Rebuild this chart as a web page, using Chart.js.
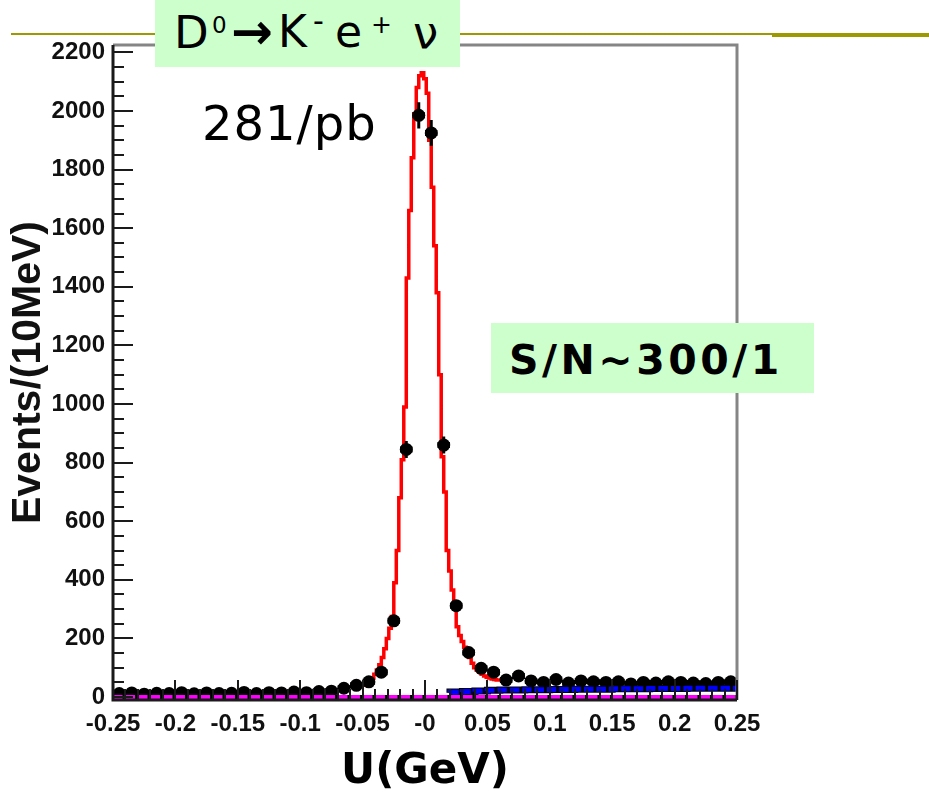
<!DOCTYPE html>
<html>
<head>
<meta charset="utf-8">
<script src="https://cdn.jsdelivr.net/npm/chart.js@4.4.1/dist/chart.umd.min.js"></script>
<style>
html,body{margin:0;padding:0;background:#fff;}
#wrap{position:relative;width:929px;height:798px;overflow:hidden;background:#fff;}
#chart{position:absolute;left:0;top:0;}
.olive1{position:absolute;left:11px;top:33px;width:761px;height:2px;background:#9c9a00;}
.olive2{position:absolute;left:772px;top:33px;width:157px;height:4px;background:#9c9a00;}
.box{position:absolute;background:#ccffcc;}
.t{position:absolute;white-space:pre;color:#000;font-family:'DejaVu Sans',Verdana,sans-serif;}
</style>
</head>
<body>
<div id="wrap">
  <div class="olive1"></div>
  <div class="olive2"></div>
  <canvas id="chart" width="929" height="798"></canvas>
  <div class="box" style="left:155px;top:0;width:305px;height:67px;"></div>
  <div class="t" style="left:174px;top:10px;font-size:45px;line-height:45px;">D</div>
  <div class="t" style="left:212px;top:14px;font-size:23px;line-height:23px;">0</div>
  <div class="t" style="left:231px;top:7px;font-size:50px;line-height:50px;font-weight:bold;">→</div>
  <div class="t" style="left:278px;top:10px;font-size:44px;line-height:44px;">K</div>
  <div class="t" style="left:313px;top:6px;font-size:30px;line-height:30px;">-</div>
  <div class="t" style="left:335px;top:10px;font-size:44px;line-height:44px;">e</div>
  <div class="t" style="left:371px;top:12px;font-size:25px;line-height:25px;">+</div>
  <div class="t" style="left:413px;top:10px;font-size:45px;line-height:45px;">ν</div>
  <div class="t" style="left:202px;top:99px;font-size:48px;line-height:48px;letter-spacing:1px;">281/pb</div>
  <div class="box" style="left:491px;top:323px;width:323px;height:70px;"></div>
  <div class="t" style="left:509px;top:340px;font-size:41px;line-height:41px;font-weight:bold;letter-spacing:3.5px;">S/N~300/1</div>
</div>
<script>
// ---- data ----
// data histogram: 10 MeV bins from -0.25 to 0.25 GeV
const binCenters = [
  -0.245,-0.235,-0.225,-0.215,-0.205,-0.195,-0.185,-0.175,-0.165,-0.155,
  -0.145,-0.135,-0.125,-0.115,-0.105,-0.095,-0.085,-0.075,-0.065,-0.055,
  -0.045,-0.035,-0.025,-0.015,-0.005, 0.005, 0.015, 0.025, 0.035, 0.045,
   0.055, 0.065, 0.075, 0.085, 0.095, 0.105, 0.115, 0.125, 0.135, 0.145,
   0.155, 0.165, 0.175, 0.185, 0.195, 0.205, 0.215, 0.225, 0.235, 0.245];
const counts = [
  12, 14, 10, 13, 12, 15, 11, 14, 12, 13,
  16, 12, 15, 14, 17, 15, 19, 20, 30, 40,
  52, 85, 260, 845, 1985, 1925, 860, 312, 152, 98,
  85, 58, 72, 55, 50, 60, 48, 55, 52, 50,
  52, 45, 50, 48, 52, 50, 48, 46, 50, 52];
const countErrors = [
  4, 4, 3, 4, 4, 4, 3, 4, 4, 4,
  4, 4, 4, 4, 4, 4, 4, 4, 5, 6,
  7, 9, 16, 29, 45, 44, 29, 18, 12, 10,
  9, 8, 8, 7, 7, 8, 7, 7, 7, 7,
  7, 7, 7, 7, 7, 7, 7, 7, 7, 7];
const binHalfWidth = 0.005;

// total fit (red), fine 2 MeV bins
const fitStart = -0.051, fitBinWidth = 0.002;
const fitValues = [
  35, 40, 45, 50, 57, 65, 78, 92, 110, 135,
  165, 200, 235, 275, 390, 500, 680, 810, 990, 1430,
  1660, 1840, 1990, 2080, 2120, 2130, 2110, 2060, 1900, 1740,
  1540, 1380, 1100, 820, 700, 500, 430, 365, 300, 240,
  210, 190, 170, 155, 135, 115, 100, 92, 85, 78,
  72, 68, 65, 62, 60, 58];

// combinatoric background (blue), 10 MeV bins starting at 0.02
const bkgStart = 0.02, bkgBinWidth = 0.01;
const bkgValues = [15, 17, 19, 21, 23, 24, 24, 25, 25, 26, 26, 27, 27, 27, 28, 28, 28, 29, 29, 29, 30, 30, 30];

// peaking background (magenta)
const peakBkgX = [-0.25, 0.25];
const peakBkgValues = [0, 0];

// axis tick labels
const xTickLabels = ['-0.25','-0.2','-0.15','-0.1','-0.05','-0','0.05','0.1','0.15','0.2','0.25'];
const yTickLabels = ['0','200','400','600','800','1000','1200','1400','1600','1800','2000','2200'];

// ---- build tables ----
function histPoints(start, width, values){
  const pts = values.map((v,i)=>({x:start + i*width, y:v}));
  pts.push({x:start + values.length*width, y:values[values.length-1]});
  return pts;
}
const pointData = binCenters.map((c,i)=>({x:c, y:counts[i]}));
const vErrData = [], hErrData = [];
binCenters.forEach((c,i)=>{
  vErrData.push({x:c, y:counts[i]-countErrors[i]});
  vErrData.push({x:c, y:counts[i]+countErrors[i]});
  vErrData.push({x:c, y:null});
  hErrData.push({x:c-binHalfWidth, y:counts[i]});
  hErrData.push({x:c+binHalfWidth, y:counts[i]});
  hErrData.push({x:c, y:null});
});
const fitData = histPoints(fitStart, fitBinWidth, fitValues);
const bkgData = histPoints(bkgStart, bkgBinWidth, bkgValues);
const peakData = peakBkgX.map((x,i)=>({x, y:peakBkgValues[i]}));

const tickFont = {family:"'Liberation Sans',Arial,sans-serif", weight:'bold', size:24};

const frameTicks = {
  id:'frameTicks',
  afterDatasetsDraw(chart){
    const {ctx, chartArea:a, scales:{x, y}} = chart;
    ctx.save();
    ctx.lineCap = 'butt';
    ctx.strokeStyle = '#858585'; ctx.lineWidth = 3;
    ctx.beginPath(); ctx.moveTo(a.left, a.top); ctx.lineTo(a.right, a.top); ctx.lineTo(a.right, a.bottom); ctx.stroke();
    ctx.strokeStyle = '#1a1a1a'; ctx.lineWidth = 2;
    y.ticks.forEach(t=>{
      const py = Math.round(y.getPixelForValue(t.value));
      const len = t.label !== '' ? 20 : 11;
      ctx.beginPath(); ctx.moveTo(a.left, py); ctx.lineTo(a.left+len, py); ctx.stroke();
    });
    x.ticks.forEach(t=>{
      const px = Math.round(x.getPixelForValue(t.value));
      const len = t.label !== '' ? 20 : 11;
      ctx.beginPath(); ctx.moveTo(px, a.bottom); ctx.lineTo(px, a.bottom-len); ctx.stroke();
    });
    ctx.lineWidth = 3;
    ctx.beginPath(); ctx.moveTo(a.left, a.top); ctx.lineTo(a.left, a.bottom); ctx.lineTo(a.right, a.bottom); ctx.stroke();
    ctx.restore();
  }
};

new Chart(document.getElementById('chart'), {
  type:'scatter',
  data:{
    datasets:[
      {label:'peaking bkg', data:peakData, showLine:true, borderColor:'#ff00ff', borderWidth:4, borderDash:[9.5,3], pointRadius:0, order:0},
      {label:'peaking bkg base', data:peakData, showLine:true, borderColor:'#000', borderWidth:4, pointRadius:0, order:1},
      {label:'background', data:bkgData, showLine:true, stepped:'after', borderColor:'#0000ff', borderWidth:5, borderDash:[9.5,3], pointRadius:0, order:2},
      {label:'background base', data:bkgData, showLine:true, stepped:'after', borderColor:'#000', borderWidth:7, pointRadius:0, order:3},
      {label:'data', data:pointData, showLine:false, pointStyle:'circle', pointRadius:6.5, pointBackgroundColor:'#000', pointBorderColor:'#000', pointBorderWidth:0, order:4},
      {label:'vertical errors', data:vErrData, showLine:true, spanGaps:false, borderColor:'#000', borderWidth:3, pointRadius:0, order:5},
      {label:'horizontal errors', data:hErrData, showLine:true, spanGaps:false, borderColor:'#000', borderWidth:6, pointRadius:0, order:5},
      {label:'fit', data:fitData, showLine:true, stepped:'after', borderColor:'#ff0000', borderWidth:3.5, pointRadius:0, order:6}
    ]
  },
  options:{
    responsive:false,
    animation:false,
    layout:{padding:{top:45, right:192, bottom:0, left:0}},
    plugins:{legend:{display:false}, tooltip:{enabled:false}},
    scales:{
      x:{
        type:'linear', min:-0.25, max:0.25,
        afterFit(s){ s.height = 98; },
        border:{display:false},
        grid:{display:false, drawTicks:false},
        ticks:{
          stepSize:0.01, autoSkip:false, maxRotation:0, includeBounds:false, padding:10,
          color:'#111', font:tickFont,
          callback(v){
            const k = Math.round((v+0.25)/0.05);
            return Math.abs(v-(-0.25+k*0.05)) < 1e-6 ? xTickLabels[k] : '';
          }
        },
        title:{display:true, text:'U(GeV)', color:'#000',
          font:{family:"'DejaVu Sans',Verdana,sans-serif", weight:'bold', size:42},
          padding:{top:0, bottom:1}}
      },
      y:{
        type:'linear', min:-10, max:2225,
        afterFit(s){ s.width = 113; },
        border:{display:false},
        grid:{display:false, drawTicks:false},
        ticks:{
          stepSize:50, autoSkip:false, includeBounds:false, padding:8,
          color:'#111', font:tickFont,
          callback(v){
            const k = Math.round(v/200);
            return (Math.abs(v-k*200) < 1e-6 && k>=0 && k<yTickLabels.length) ? yTickLabels[k] : '';
          }
        },
        title:{display:true, text:'Events/(10MeV)', color:'#111',
          font:{family:"'Liberation Sans',Arial,sans-serif", weight:'bold', size:41},
          padding:{top:4, bottom:0}}
      }
    }
  },
  plugins:[frameTicks]
});
</script>
</body>
</html>
